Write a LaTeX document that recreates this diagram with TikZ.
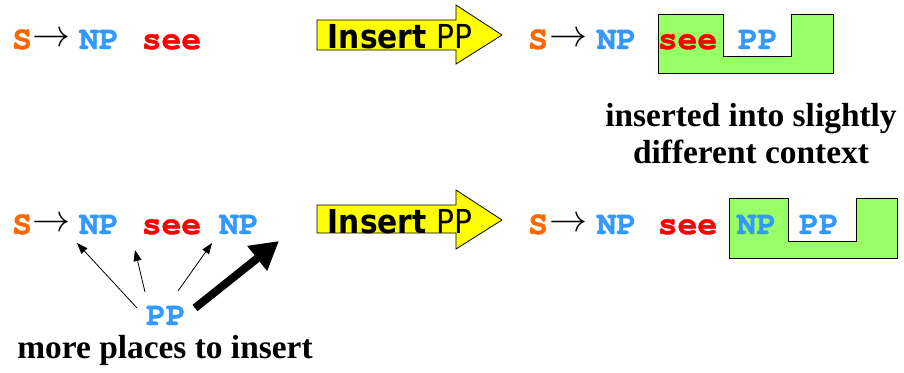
\RequirePackage{fix-cm}
\documentclass[tikz,border=0pt]{standalone}
\usepackage{fontspec}
\setmainfont{Liberation Serif}
\newfontfamily\codefont{TeX Gyre Cursor}[BoldFeatures={FakeBold=1.2}]
\newfontfamily\insfont{DejaVu Sans}
\usetikzlibrary{arrows.meta}
\definecolor{sorange}{HTML}{FF6600}
\definecolor{npblue}{HTML}{3399FF}
\definecolor{seered}{HTML}{FF0000}
\definecolor{boxgreen}{HTML}{99FF66}
\definecolor{arrowyellow}{HTML}{FFFF00}
\tikzset{
  tok/.style={inner sep=0pt, anchor=base, font=\codefont\bfseries\fontsize{33}{33}\selectfont},
  sym/.style={tok, text=sorange},
  np/.style={tok, text=npblue},
  verb/.style={tok, text=seered},
  rarr/.style={inner sep=0pt, anchor=center, font=\fontsize{38}{38}\selectfont},
  insarrow/.style={draw=black, line width=0.8pt, fill=arrowyellow, line join=miter},
  instext/.style={inner sep=0pt, anchor=base, font=\insfont\fontsize{33}{33}\selectfont},
  greenbox/.style={draw=black, line width=1pt, fill=boxgreen},
  caption/.style={inner sep=0pt, align=center, font=\bfseries\fontsize{33.4}{37}\selectfont},
  thin/.style={line width=0.8pt, -{Triangle[length=11pt,width=8pt]}},
  thick/.style={line width=8pt, -{Triangle[length=28pt,width=30pt]}},
}
\begin{document}
\begin{tikzpicture}[x=1pt,y=-1pt]
\useasboundingbox (0,0) rectangle (904,372);
% ---- top left
\node[sym] (s1) at (22,49) {S};
\node[rarr] (a1) at (51,40) {$\rightarrow$};
\node[np] (np1) at (99,49) {NP};
\node[verb] (see1) at (171.5,49) {see};
% ---- top insert arrow
\draw[insarrow] (317,20) -- (456,20) -- (456,5) -- (502,35) -- (456,64) -- (456,50) -- (317,50) -- cycle;
\node[instext] (ins1) at (400,48) {\scalebox{0.9}[1]{\textbf{Insert} PP}};
% ---- top right
\draw[greenbox] (658,14) -- (723,14) -- (723,56) -- (791,56) -- (791,14) -- (833,14) -- (833,73) -- (658,73) -- cycle;
\node[sym] (s2) at (538,49) {S};
\node[rarr] (a2) at (568,40) {$\rightarrow$};
\node[np] (np2) at (616.5,49) {NP};
\node[verb] (see2) at (687.5,49) {see};
\node[np] (pp2) at (758,49) {PP};
\node[caption] (cap1) at (751,134) {inserted into slightly\\different context};
% ---- bottom left
\node[sym] (s3) at (22,234) {S};
\node[rarr] (a3) at (51,225) {$\rightarrow$};
\node[np] (np3) at (99,234) {NP};
\node[verb] (see3) at (171.5,234) {see};
\node[np] (np3b) at (239,234) {NP};
\node[np] (pp3) at (166,325) {PP};
\node[caption, anchor=base] (cap2) at (165,358) {more places to insert};
\coordinate (t1) at (77,243);
\coordinate (t2) at (135,250);
\coordinate (t3) at (212,243);
\coordinate (t4) at (279,241);
\coordinate (f1) at (137,308);
\coordinate (f2) at (145,292);
\coordinate (f3) at (178,291);
\coordinate (f4) at (195,308);
\draw[thin] (f1) -- (t1);
\draw[thin] (f2) -- (t2);
\draw[thin] (f3) -- (t3);
\draw[thick] (f4) -- (t4);
% ---- bottom insert arrow
\draw[insarrow] (317,205) -- (456,205) -- (456,190) -- (502,220) -- (456,249) -- (456,233) -- (317,233) -- cycle;
\node[instext] (ins2) at (400,233) {\scalebox{0.9}[1]{\textbf{Insert} PP}};
% ---- bottom right
\draw[greenbox] (729,198) -- (788,198) -- (788,241) -- (856,241) -- (856,198) -- (897,198) -- (897,258) -- (729,258) -- cycle;
\node[sym] (s4) at (538,234) {S};
\node[rarr] (a4) at (568,225) {$\rightarrow$};
\node[np] (np4) at (616.5,234) {NP};
\node[verb] (see4) at (687.5,234) {see};
\node[np] (np4b) at (756.5,234) {NP};
\node[np] (pp4) at (819,234) {PP};
\end{tikzpicture}
\end{document}
